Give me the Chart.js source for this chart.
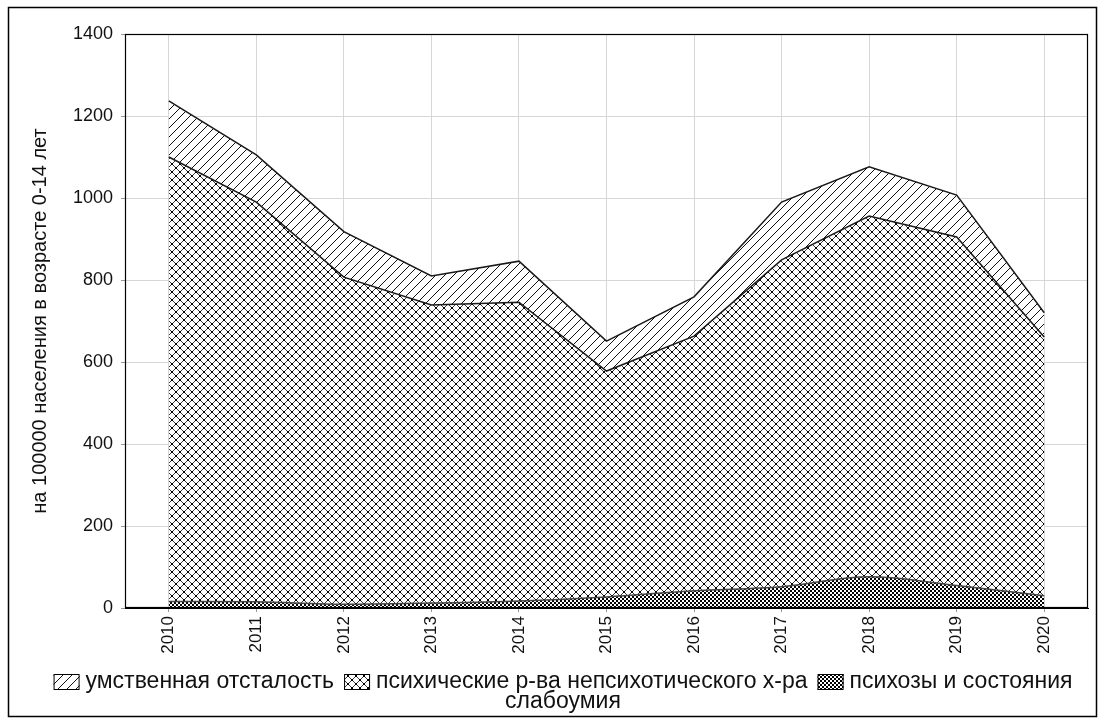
<!DOCTYPE html>
<html>
<head>
<meta charset="utf-8">
<title>Психические расстройства у детей 0-14 лет</title>
<script src="https://cdn.jsdelivr.net/npm/chart.js@4.4.1/dist/chart.umd.min.js"></script>
<style>
  html, body { margin: 0; padding: 0; background: #fff; }
  canvas { display: block; }
</style>
</head>
<body>
<canvas id="chart" width="1103" height="724"></canvas>
<script>
const years = ['2010', '2011', '2012', '2013', '2014', '2015', '2016', '2017', '2018', '2019', '2020'];

// layers of the stacked area, per 100000 population aged 0-14
const psychoses = [16, 15, 9, 12, 17, 27, 42, 52, 76, 55, 30];
const neurotic = [1084, 975, 798, 727, 729, 551, 621, 797, 880, 850, 631];
const retardation = [137, 115, 111, 71, 100, 73, 96, 141, 120, 102, 59];

const yMin = 0;
const yMax = 1400;
const yStep = 200;

const FONT = "'Liberation Sans', Arial, sans-serif";

const canvas = document.getElementById('chart');
const ctx = canvas.getContext('2d');

// small tiles used as fill patterns
function makePattern(size, draw) {
    const tile = document.createElement('canvas');
    tile.width = size;
    tile.height = size;
    const g = tile.getContext('2d');
    g.fillStyle = '#fff';
    g.fillRect(0, 0, size, size);
    draw(g, size);
    return ctx.createPattern(tile, 'repeat');
}

const hatch = makePattern(9, (g, s) => {
    g.strokeStyle = '#111';
    g.lineWidth = 1;
    g.beginPath();
    g.moveTo(-1, s + 1); g.lineTo(s + 1, -1);
    g.moveTo(-1, 1); g.lineTo(1, -1);
    g.moveTo(s - 1, s + 1); g.lineTo(s + 1, s - 1);
    g.stroke();
});

const cross = makePattern(8, (g, s) => {
    g.strokeStyle = '#222';
    g.lineWidth = 0.9;
    g.beginPath();
    g.moveTo(0, 0); g.lineTo(s, s);
    g.moveTo(s, 0); g.lineTo(0, s);
    g.stroke();
    g.fillStyle = '#000';
    g.fillRect(s / 2 - 1, s / 2 - 1, 2, 2);
    g.fillRect(-1, -1, 2, 2); g.fillRect(s - 1, -1, 2, 2);
    g.fillRect(-1, s - 1, 2, 2); g.fillRect(s - 1, s - 1, 2, 2);
});

const checker = makePattern(4, (g) => {
    g.fillStyle = '#000';
    g.fillRect(0, 0, 2, 2);
    g.fillRect(2, 2, 2, 2);
});

// legend order as it reads left to right
const legendItems = [
    { text: 'умственная отсталость', fill: hatch },
    { text: 'психические р-ва непсихотического х-ра', fill: cross },
    { text: 'психозы и состояния слабоумия', fill: checker },
];

const frameAndLegend = {
    id: 'frameAndLegend',
    beforeDraw(chart) {
        const c = chart.ctx;
        c.save();
        c.fillStyle = '#fff';
        c.fillRect(0, 0, chart.width, chart.height);
        c.restore();
    },
    afterDraw(chart) {
        const c = chart.ctx;
        const a = chart.chartArea;
        c.save();
        // plot frame
        c.strokeStyle = '#000';
        c.lineWidth = 1.2;
        c.strokeRect(a.left + 0.5, a.top + 0.5, a.right - a.left - 1, a.bottom - a.top - 1);
        // outer border
        c.lineWidth = 1.5;
        c.strokeRect(8.5, 7.5, 1088, 709);

        // legend: swatch + text, wrapped on words when the row is full
        const fontSize = 23;
        c.font = fontSize + 'px ' + FONT;
        c.textBaseline = 'middle';
        const boxW = 26, boxH = 16, gapAfterBox = 6, gapAfterText = 10;
        const maxW = 1062;
        const centerX = 563;
        const row1 = 682, rowH = 20;

        const words = [];
        legendItems.forEach(it => {
            it.text.split(' ').forEach((w, j) => words.push({ w, item: it, first: j === 0 }));
        });
        const space = c.measureText(' ').width;
        const lines = [[]];
        let width = 0;
        words.forEach(word => {
            let add = c.measureText(word.w).width;
            if (word.first) add += boxW + gapAfterBox + (width > 0 ? gapAfterText : 0);
            else add += space;
            if (width + add > maxW && width > 0) {
                lines.push([]);
                width = 0;
                add = c.measureText(word.w).width + (word.first ? boxW + gapAfterBox : 0);
            }
            lines[lines.length - 1].push(word);
            width += add;
            word.lineW = width;
        });

        lines.forEach((line, li) => {
            const total = line[line.length - 1].lineW;
            let x = centerX - total / 2;
            const y = row1 + li * rowH;
            line.forEach((word, wi) => {
                if (word.first) {
                    if (wi > 0) x += gapAfterText;
                    c.fillStyle = word.item.fill;
                    c.fillRect(x, y - boxH / 2, boxW, boxH);
                    c.strokeStyle = '#000';
                    c.lineWidth = 1;
                    c.strokeRect(x + 0.5, y - boxH / 2 + 0.5, boxW - 1, boxH - 1);
                    x += boxW + gapAfterBox;
                } else if (wi > 0) {
                    x += space;
                }
                c.fillStyle = '#111';
                c.textAlign = 'left';
                c.fillText(word.w, x, y);
                x += c.measureText(word.w).width;
            });
        });
        c.restore();
    }
};

const areaStyle = {
    pointRadius: 0,
    pointHoverRadius: 0,
    borderWidth: 1.5,
    borderColor: '#1a1a1a',
};

new Chart(ctx, {
    type: 'line',
    data: {
        labels: years,
        datasets: [
            {
                ...areaStyle,
                label: 'психозы и состояния слабоумия',
                data: psychoses,
                backgroundColor: checker,
                borderColor: '#444',
                fill: 'origin',
                cubicInterpolationMode: 'monotone',
            },
            {
                ...areaStyle,
                label: 'психические р-ва непсихотического х-ра',
                data: neurotic,
                backgroundColor: cross,
                fill: '-1',
                tension: 0,
            },
            {
                ...areaStyle,
                label: 'умственная отсталость',
                data: retardation,
                backgroundColor: hatch,
                fill: '-1',
                tension: 0,
            },
        ],
    },
    options: {
        responsive: false,
        animation: false,
        events: [],
        layout: { padding: { top: 34, right: 15, bottom: 58, left: 0 } },
        plugins: {
            legend: { display: false },
            tooltip: { enabled: false },
        },
        scales: {
            x: {
                offset: true,
                grid: { color: '#d6d6d6', lineWidth: 1, tickLength: 4, tickColor: '#999' },
                border: { color: '#000', width: 1 },
                ticks: {
                    minRotation: 90,
                    maxRotation: 90,
                    padding: 4,
                    color: '#111',
                    font: { family: FONT, size: 17 },
                },
                afterFit(scale) { scale.height = 58; },
            },
            y: {
                stacked: true,
                min: yMin,
                max: yMax,
                grid: { color: '#d6d6d6', lineWidth: 1, tickLength: 4, tickColor: '#999' },
                border: { color: '#000', width: 1 },
                ticks: {
                    stepSize: yStep,
                    padding: 8,
                    color: '#111',
                    font: { family: FONT, size: 18 },
                    callback: value => String(value),
                },
                title: {
                    display: true,
                    text: 'на 100000 населения в возрасте 0-14 лет',
                    color: '#111',
                    font: { family: FONT, size: 20 },
                    padding: { top: 28, bottom: 0 },
                },
                afterFit(scale) { scale.width = 125; },
            },
        },
    },
    plugins: [frameAndLegend],
});
</script>
</body>
</html>
